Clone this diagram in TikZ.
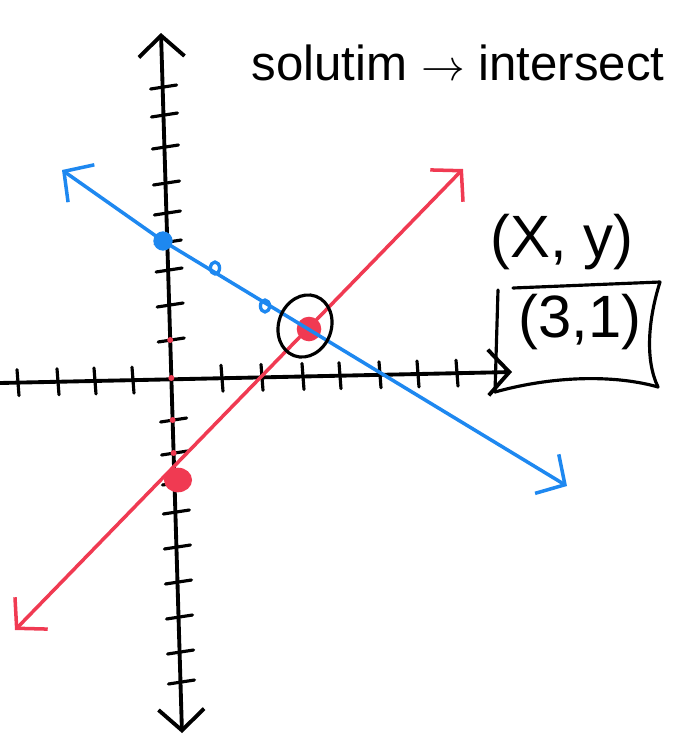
\documentclass[tikz,border=0pt]{standalone}
\usepackage{fontspec}
\setmainfont{Liberation Sans}
\usetikzlibrary{arrows.meta}
\definecolor{penred}{RGB}{240,58,82}
\definecolor{penblue}{RGB}{30,136,240}

\begin{document}
\begin{tikzpicture}[x=0.02cm,y=-0.02cm,
  pen/.style={line width=2.2pt,line cap=round,line join=round},
  tick/.style={line width=1.8pt,line cap=round},
  barb/.style={{Straight Barb[length=12pt,width=26pt]}-{Straight Barb[length=12pt,width=26pt]}},
  hand/.style={font=\fontsize{34}{36}\selectfont,inner sep=0pt}]
  \useasboundingbox (0,0) rectangle (682,738);
  % axes
  \coordinate (ytop) at (161,33);
  \coordinate (ybot) at (182,733);
  \coordinate (xleft) at (0,383);
  \coordinate (xright) at (512,372);
  \draw[pen,barb] (ytop) -- (ybot);
  \draw[pen,-{Straight Barb[length=12pt,width=26pt]}] (xleft) -- (xright);
  \foreach \t in {87,115,147,183,213,242,270,305,340,420,453,483,512,547,582,617,652,682}
    \draw[tick] ({161+0.03*(\t-33)-12},{\t+2}) -- ++(26,-4);
  \foreach \t in {18,58,95,133,222,262,303,340,380,418,457}
    \draw[tick] ({\t-1},{383-0.0216*\t-13}) -- ++(2,26);
  \foreach \t in {340,378,420,453}
    \fill[penred] ({161+0.03*(\t-33)},\t) circle (1.7pt);
  % red line
  \coordinate (redlo) at (15,630);
  \coordinate (redhi) at (463,169);
  \coordinate (redint) at (178,480);
  \coordinate (meet) at (309,329);
  \draw[pen,penred,line width=2pt,barb] (redlo) -- (redhi);
  \fill[penred] (redint) circle [x radius=8pt,y radius=7pt];
  \fill[penred] (meet) circle (7pt);
  % blue line
  \coordinate (bluehi) at (62,170);
  \coordinate (bluedot) at (163,241);
  \coordinate (bluelo) at (567,486);
  \draw[pen,penblue,line width=2pt,barb] (bluehi) -- (bluedot) -- (bluelo);
  \fill[penblue] (bluedot) circle (5.5pt);
  \draw[penblue,line width=1.9pt] (215,268) circle [x radius=2.6pt,y radius=3.4pt];
  \draw[penblue,line width=1.9pt] (265,306) circle [x radius=2.6pt,y radius=3.4pt];
  % circled solution
  \draw[line width=1.8pt] (305,326) circle [x radius=15pt,y radius=18pt,rotate=-20];
  % labels
  \node[anchor=base,font=\fontsize{28}{30}\selectfont] (title) at (458,80) {solutim $\rightarrow$ intersect};
  \node[hand] (xylabel) at (562,242) {(X, y)};
  \node[hand] (answer) at (580,322) {(3,1)};
  \coordinate (boxtl) at (513,288);
  \coordinate (boxtr) at (660,282);
  \coordinate (boxbr) at (658,387);
  \coordinate (boxbl) at (495,392);
  \draw[pen,line width=1.8pt] (boxtl) -- (boxtr) .. controls (648,320) and (645,360) .. (boxbr);
  \draw[pen,line width=1.8pt] (boxbl) .. controls (560,374) and (620,376) .. (boxbr);
  \draw[pen,line width=1.8pt] (498,290) -- (boxbl);
\end{tikzpicture}
\end{document}
